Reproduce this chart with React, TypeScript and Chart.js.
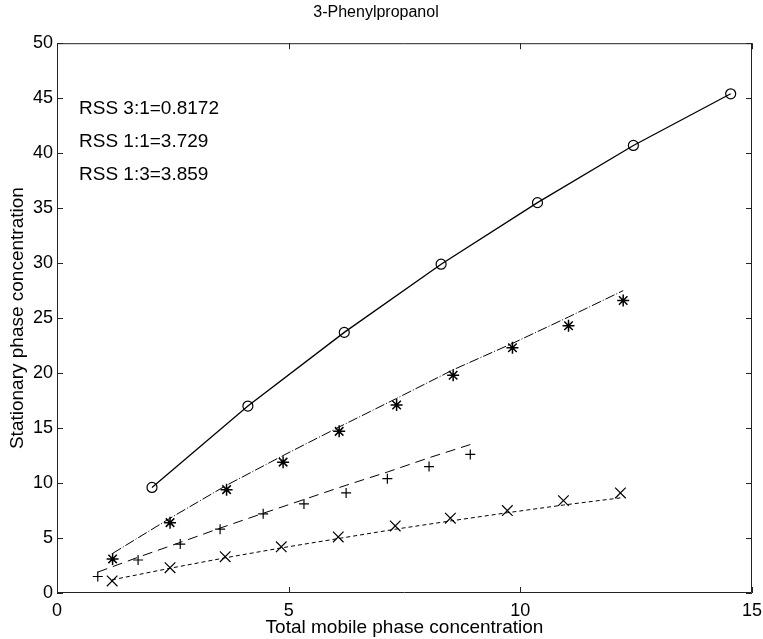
import React, { useEffect, useRef } from "react";
import { Chart, registerables } from "chart.js";

Chart.register(...registerables);

// Circles (RSS 3:1) – measured points, joined by a solid line
const circleX = [2.05, 4.12, 6.2, 8.29, 10.37, 12.44, 14.54];
const circleY = [9.6, 17.0, 23.7, 29.9, 35.5, 40.7, 45.4];

// Asterisks (RSS 1:1)
const starX = [1.2, 2.44, 3.66, 4.88, 6.09, 7.33, 8.55, 9.83, 11.04, 12.22];
const starY = [3.1, 6.4, 9.4, 11.9, 14.7, 17.1, 19.8, 22.3, 24.3, 26.6];
const starFitY = [3.6, 6.8, 9.8, 12.5, 15.1, 17.7, 20.3, 22.7, 25.1, 27.5];

// Plus markers (RSS 1:3)
const plusX = [0.88, 1.75, 2.66, 3.52, 4.45, 5.33, 6.24, 7.13, 8.03, 8.92];
const plusY = [1.5, 3.0, 4.45, 5.8, 7.2, 8.1, 9.1, 10.4, 11.5, 12.6];
const plusFitY = [1.9, 3.25, 4.6, 5.9, 7.25, 8.5, 9.8, 11.0, 12.3, 13.5];

// X markers
const crossX = [1.19, 2.44, 3.63, 4.84, 6.07, 7.3, 8.49, 9.72, 10.93, 12.16];
const crossY = [1.1, 2.3, 3.3, 4.2, 5.1, 6.1, 6.8, 7.5, 8.4, 9.1];
const crossFitY = [1.2, 2.25, 3.2, 4.1, 4.95, 5.8, 6.55, 7.3, 8.0, 8.65];

const xTicks = [0, 5, 10, 15];
const yTicks = [0, 5, 10, 15, 20, 25, 30, 35, 40, 45, 50];

const annotationLines = ["RSS 3:1=0.8172", "RSS 1:1=3.729", "RSS 1:3=3.859"];
const annotationX = 0.475;
const annotationY = [44, 41, 38];

const pts = (xs: number[], ys: number[]) => xs.map((x, i) => ({ x, y: ys[i] }));

const FONT = "'Liberation Sans', Arial, sans-serif";

const framePlugin = {
  id: "frame",
  afterDraw(chart: any) {
    const { ctx, chartArea } = chart;
    const { left, right, top, bottom } = chartArea;
    const xs = chart.scales.x;
    const ys = chart.scales.y;
    ctx.save();
    ctx.strokeStyle = "#222";
    ctx.lineWidth = 1;
    ctx.beginPath();
    ctx.rect(left + 0.5, top + 0.5, right - left - 1, bottom - top - 1);
    ctx.stroke();
    const tl = 6;
    ctx.beginPath();
    xTicks.forEach((v) => {
      const px = Math.round(xs.getPixelForValue(v)) + 0.5;
      ctx.moveTo(px, bottom);
      ctx.lineTo(px, bottom - tl);
      ctx.moveTo(px, top);
      ctx.lineTo(px, top + tl);
    });
    yTicks.forEach((v) => {
      const py = Math.round(ys.getPixelForValue(v)) + 0.5;
      ctx.moveTo(left, py);
      ctx.lineTo(left + tl, py);
      ctx.moveTo(right, py);
      ctx.lineTo(right - tl, py);
    });
    ctx.stroke();
    ctx.fillStyle = "#000";
    ctx.font = `19px ${FONT}`;
    ctx.textAlign = "left";
    ctx.textBaseline = "middle";
    annotationLines.forEach((t, i) => {
      ctx.fillText(t, xs.getPixelForValue(annotationX), ys.getPixelForValue(annotationY[i]));
    });
    ctx.restore();
  },
};

export default function App() {
  const ref = useRef<HTMLCanvasElement | null>(null);
  useEffect(() => {
    document.body.style.margin = "0";
    if (!ref.current) return;
    const line = { borderColor: "#000", borderWidth: 1, pointRadius: 0, showLine: true, fill: false };
    const marker = (style: string, r: number, w: number) => ({
      showLine: false,
      pointStyle: style,
      pointRadius: r,
      pointBorderColor: "#000",
      pointBackgroundColor: "rgba(0,0,0,0)",
      pointBorderWidth: w,
      borderColor: "#000",
    });
    const chart = new Chart(ref.current, {
      type: "scatter",
      data: {
        datasets: [
          {
            data: pts(circleX, circleY),
            showLine: true,
            borderColor: "#000",
            borderWidth: 1.3,
            pointStyle: "circle",
            pointRadius: 5,
            pointBorderColor: "#000",
            pointBackgroundColor: "rgba(0,0,0,0)",
            pointBorderWidth: 1.2,
          },
          { ...line, data: pts(starX, starFitY), borderDash: [10, 2, 1, 2] },
          { ...marker("star", 6, 1.5), data: pts(starX, starY) },
          { ...line, data: pts(plusX, plusFitY), borderDash: [10, 6] },
          { ...marker("cross", 5, 1.2), data: pts(plusX, plusY) },
          { ...line, data: pts(crossX, crossFitY), borderDash: [4, 3] },
          { ...marker("crossRot", 7.5, 1.2), data: pts(crossX, crossY) },
        ] as any,
      },
      options: {
        animation: false,
        responsive: true,
        maintainAspectRatio: false,
        layout: { padding: { right: 11, left: 0, top: 0, bottom: 0 } },
        plugins: {
          legend: { display: false },
          tooltip: { enabled: false },
          title: {
            display: true,
            text: "3-Phenylpropanol",
            color: "#000",
            font: { family: FONT, size: 16, weight: "normal" },
            padding: { top: 3, bottom: 21 },
          },
        },
        scales: {
          x: {
            type: "linear",
            min: 0,
            max: 15,
            afterBuildTicks: (s: any) => {
              s.ticks = xTicks.map((v) => ({ value: v }));
            },
            afterFit: (s: any) => {
              s.height = 46;
              s.paddingLeft = 0;
              s.paddingRight = 0;
            },
            grid: { display: false, drawTicks: false },
            border: { display: false },
            ticks: { color: "#000", font: { family: FONT, size: 18 }, padding: 7, maxRotation: 0 },
            title: {
              display: true,
              text: "Total mobile phase concentration",
              color: "#000",
              font: { family: FONT, size: 19 },
              padding: { top: 0, bottom: 0 },
            },
          },
          y: {
            type: "linear",
            min: 0,
            max: 50,
            afterBuildTicks: (s: any) => {
              s.ticks = yTicks.map((v) => ({ value: v }));
            },
            afterFit: (s: any) => {
              s.width = 57;
            },
            grid: { display: false, drawTicks: false },
            border: { display: false },
            ticks: { color: "#000", font: { family: FONT, size: 18 }, padding: 4 },
            title: {
              display: true,
              text: "Stationary phase concentration",
              color: "#000",
              font: { family: FONT, size: 19 },
              padding: { top: 6, bottom: 0 },
            },
          },
        },
      } as any,
      plugins: [framePlugin],
    });
    return () => chart.destroy();
  }, []);
  return (
    <div style={{ width: 763, height: 639, position: "relative", background: "#fff" }}>
      <canvas ref={ref} />
    </div>
  );
}
